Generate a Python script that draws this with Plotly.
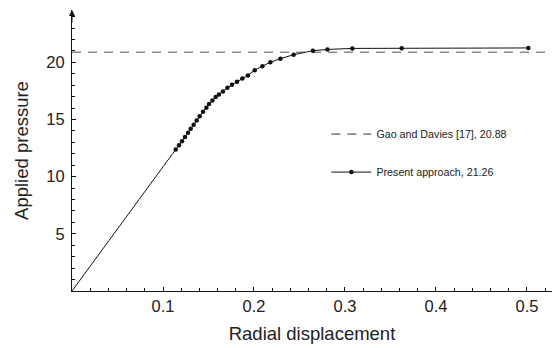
import plotly.graph_objects as go

# Present approach (radial displacement, applied pressure)
disp = [0.114, 0.1176, 0.1209, 0.1242, 0.1275, 0.1304, 0.1337, 0.137, 0.1403, 0.144,
        0.1477, 0.1506, 0.1543, 0.1579, 0.1615, 0.1659, 0.1708, 0.1758, 0.1813, 0.1872,
        0.1934, 0.2008, 0.2092, 0.218, 0.229, 0.2436, 0.2648, 0.2807, 0.3081, 0.3623, 0.5015]
press = [12.38, 12.76, 13.11, 13.46, 13.84, 14.19, 14.54, 14.92, 15.29, 15.68,
         16.03, 16.35, 16.67, 16.96, 17.19, 17.46, 17.78, 18.04, 18.30, 18.59,
         18.86, 19.32, 19.67, 20.02, 20.32, 20.67, 21.02, 21.13, 21.22, 21.23, 21.26]
gao_value = 20.88
x_ticks = [0.1, 0.2, 0.3, 0.4, 0.5]
y_ticks = [5, 10, 15, 20]
x_range = [0, 0.5275]
y_range = [0, 24.58]

font = "Liberation Sans, Arial, Helvetica, sans-serif"
fig = go.Figure()

# elastic part from origin to the first computed point
fig.add_trace(go.Scatter(x=[0, disp[0]], y=[0, press[0]], mode="lines",
                         line=dict(color="#111", width=1), showlegend=False,
                         hoverinfo="skip"))
fig.add_trace(go.Scatter(x=x_range, y=[gao_value, gao_value], mode="lines",
                         line=dict(color="#8a8a8a", width=1.6, dash="9px,7px"),
                         name="Gao and Davies [17], 20.88", legendgroup="g1"))
fig.add_trace(go.Scatter(x=disp, y=press, mode="lines+markers",
                         line=dict(color="#111", width=1),
                         marker=dict(color="#111", size=4.5),
                         name="Present approach, 21.26", legendgroup="g2"))

fig.update_layout(
    width=554, height=348,
    margin=dict(l=72, r=2, t=10, b=57),
    paper_bgcolor="white", plot_bgcolor="white",
    font=dict(family=font, color="#222"),
    showlegend=True,
    legend=dict(x=0.53, y=0.61, xanchor="left", yanchor="top",
                bgcolor="rgba(0,0,0,0)", traceorder="grouped",
                tracegroupgap=19, font=dict(size=10.7, color="#222"),
                itemwidth=40),
    annotations=[dict(x=0, y=y_range[1], xref="x", yref="y", ax=0, ay=14,
                      showarrow=True, arrowhead=2, arrowsize=1.2, arrowwidth=1,
                      arrowcolor="#111", text="")],
)
fig.update_xaxes(range=x_range, tickvals=x_ticks, ticktext=[str(v) for v in x_ticks],
                 showgrid=False, zeroline=False, showline=True, linecolor="#111",
                 linewidth=1.2, ticks="inside", ticklen=4, tickcolor="#111",
                 tickfont=dict(size=16.5),
                 minor=dict(dtick=0.02, ticks="inside", ticklen=2.5, tickcolor="#111"),
                 title=dict(text="Radial displacement", font=dict(size=18.5), standoff=13))
fig.update_yaxes(range=y_range, tickvals=y_ticks, ticktext=[str(v) for v in y_ticks],
                 showgrid=False, zeroline=False, showline=True, linecolor="#111",
                 linewidth=1.2, ticks="inside", ticklen=4, tickcolor="#111",
                 tickfont=dict(size=16.5), ticklabelstandoff=3,
                 minor=dict(dtick=1, ticks="inside", ticklen=2.5, tickcolor="#111"),
                 title=dict(text="Applied pressure", font=dict(size=18.5), standoff=12))

fig.write_html("out.html")
